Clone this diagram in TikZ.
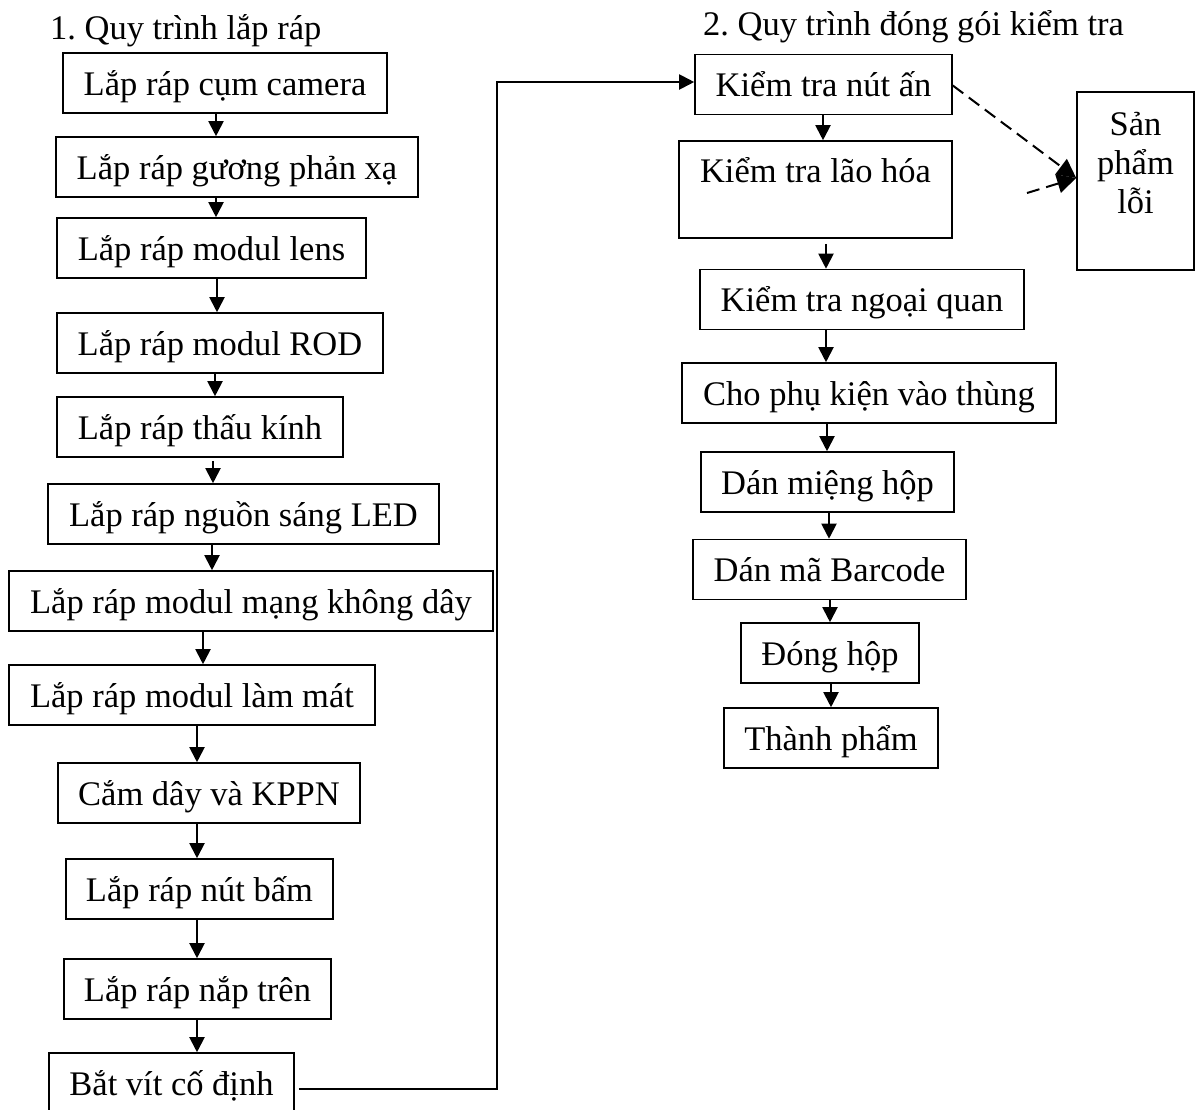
\documentclass[tikz,border=0pt]{standalone}
\usepackage{fontspec}
\setmainfont{Liberation Serif}
\usetikzlibrary{arrows.meta,calc}
\frenchspacing
\begin{document}
\begin{tikzpicture}[x=1pt,y=-1pt,
  font=\fontsize{34.5}{39}\selectfont,
  stepbox/.style={draw, line width=1.6pt, inner sep=0pt, minimum height=60pt,
    text height=30.6pt, text depth=6.6pt},
  arr/.style={line width=2pt, -{Triangle[length=15pt,width=15pt]}},
  darr/.style={line width=2pt, dash pattern=on 13pt off 7pt,
    -{Triangle[length=19pt,width=19pt]}}]
\useasboundingbox (0,0) rectangle (1200,1109);

% headings
\node[anchor=base west, inner sep=0pt] (t1) at (50,39) {1.\ Quy trình lắp ráp};
\node[anchor=base west, inner sep=0pt] (t2) at (703,35) {2.\ Quy trình đóng gói kiểm tra};

% assembly steps
\node[stepbox, minimum width=324pt] (b1)  at (225,83)    {Lắp ráp cụm camera};
\node[stepbox, minimum width=362pt] (b2)  at (237,167)   {Lắp ráp gương phản xạ};
\node[stepbox, minimum width=309pt] (b3)  at (211.5,248) {Lắp ráp modul lens};
\node[stepbox, minimum width=326pt] (b4)  at (220,343)   {Lắp ráp modul ROD};
\node[stepbox, minimum width=286pt] (b5)  at (200,427)   {Lắp ráp thấu kính};
\node[stepbox, minimum width=391pt] (b6)  at (243.5,514) {Lắp ráp nguồn sáng LED};
\node[stepbox, minimum width=484pt] (b7)  at (251,601)   {Lắp ráp modul mạng không dây};
\node[stepbox, minimum width=366pt] (b8)  at (192,695)   {Lắp ráp modul làm mát};
\node[stepbox, minimum width=302pt] (b9)  at (209,793)   {Cắm dây và KPPN};
\node[stepbox, minimum width=267pt] (b10) at (199.5,889) {Lắp ráp nút bấm};
\node[stepbox, minimum width=267pt] (b11) at (197.5,989) {Lắp ráp nắp trên};
\node[stepbox, minimum width=245pt] (b12) at (171.5,1083) {Bắt vít cố định};

% packing and testing steps
\node[stepbox, minimum width=257pt] (k1) at (823.5,84.5) {Kiểm tra nút ấn};
\node[stepbox, minimum width=273pt, minimum height=97pt, text depth=45.6pt] (k2) at (815.5,189.5) {Kiểm tra lão hóa};
\node[stepbox, minimum width=324pt] (k3) at (862,299.5) {Kiểm tra ngoại quan};
\node[stepbox, minimum width=374pt] (k4) at (869,393)   {Cho phụ kiện vào thùng};
\node[stepbox, minimum width=253pt] (k5) at (827.5,482) {Dán miệng hộp};
\node[stepbox, minimum width=273pt] (k6) at (829.5,569.5) {Dán mã Barcode};
\node[stepbox, minimum width=178pt] (k7) at (830,653)   {Đóng hộp};
\node[stepbox, minimum width=214pt] (k8) at (831,738)   {Thành phẩm};

% rejected products
\node[draw, line width=1.6pt, inner sep=0pt, minimum width=117pt, minimum height=178pt] (err) at (1135.5,181) {};
\node[align=center, anchor=base, inner sep=0pt] (errtxt) at (1135.5,213) {Sản\\phẩm\\lỗi};

% assembly flow
\draw[arr] (b1.south -| 216,0) -- (b2.north -| 216,0);
\draw[arr] (b2.south -| 216,0) -- (b3.north -| 216,0);
\draw[arr] (b3.south -| 217,0) -- (b4.north -| 217,0);
\draw[arr] (b4.south -| 215,0) -- (b5.north -| 215,0);
\draw[arr] ($(b5.south -| 213,0)+(0,3)$) -- (b6.north -| 213,0);
\draw[arr] (b6.south -| 212,0) -- (b7.north -| 212,0);
\draw[arr] (b7.south -| 203,0) -- (b8.north -| 203,0);
\draw[arr] (b8.south -| 197,0) -- (b9.north -| 197,0);
\draw[arr] (b9.south -| 197,0) -- (b10.north -| 197,0);
\draw[arr] (b10.south -| 197,0) -- (b11.north -| 197,0);
\draw[arr] (b11.south -| 197,0) -- (b12.north -| 197,0);

% hand-over to the packing line
\draw[arr] ([shift={(4,6)}]b12.east) -- ++(198,0) |- ([shift={(0,-2.5)}]k1.west);

% packing flow
\draw[arr] (k1.south -| 823,0) -- (k2.north -| 823,0);
\draw[arr] ($(k2.south -| 826,0)+(0,5)$) -- (k3.north -| 826,0);
\draw[arr] (k3.south -| 826,0) -- (k4.north -| 826,0);
\draw[arr] (k4.south -| 827,0) -- (k5.north -| 827,0);
\draw[arr] (k5.south -| 829,0) -- (k6.north -| 829,0);
\draw[arr] (k6.south -| 830,0) -- (k7.north -| 830,0);
\draw[arr] (k7.south -| 831,0) -- (k8.north -| 831,0);

% defects
\coordinate (d2) at (1027,193);
\draw[darr] ([yshift=-1pt]k1.east) -- ([shift={(0,-3)}]err.west);
\draw[darr] (d2) -- ([shift={(0,-3)}]err.west);
\end{tikzpicture}
\end{document}
